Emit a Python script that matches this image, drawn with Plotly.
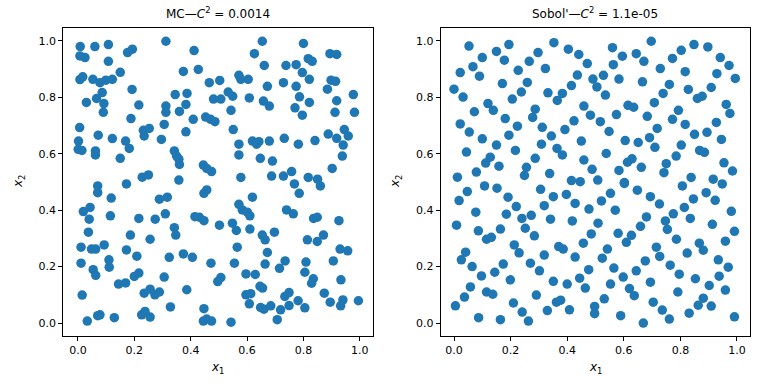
import plotly.graph_objects as go

# Monte Carlo sample (x1, x2)
mc_points = [
(0.008,0.980),(0.060,0.980),(0.108,0.987),(0.312,0.999),(0.412,0.966),(0.007,0.947),(0.025,0.941),(0.108,0.928),(0.176,0.959),(0.193,0.971),(0.374,0.892),(0.427,0.899),(0.007,0.863),(0.017,0.873),(0.053,0.864),(0.078,0.852),(0.099,0.861),(0.122,0.864),(0.150,0.889),(0.466,0.852),(0.192,0.828),(0.086,0.817),(0.066,0.796),(0.092,0.778),(0.030,0.782),(0.090,0.747),(0.216,0.773),(0.345,0.810),(0.387,0.814),(0.312,0.769),(0.312,0.747),(0.360,0.750),(0.383,0.775),(0.481,0.794),(0.188,0.725),(0.006,0.693),(0.072,0.666),(0.122,0.654),(0.169,0.645),(0.182,0.619),(0.232,0.683),(0.253,0.690),(0.235,0.663),(0.306,0.704),(0.296,0.651),(0.383,0.678),(0.409,0.722),(0.453,0.730),(0.471,0.722),(0.486,0.714),(0.002,0.645),(0.001,0.616),(0.014,0.612),(0.062,0.610),(0.062,0.596),(0.150,0.584),(0.342,0.610),(0.350,0.592),(0.358,0.581),(0.360,0.562),(0.445,0.560),(0.457,0.548),(0.474,0.537),(0.228,0.517),(0.250,0.525),(0.358,0.507),
(0.654,0.999),(0.800,0.991),(0.626,0.955),(0.894,0.955),(0.918,0.952),(0.661,0.913),(0.738,0.913),(0.774,0.916),(0.817,0.937),(0.831,0.928),(0.796,0.888),(0.503,0.860),(0.571,0.878),(0.578,0.864),(0.604,0.864),(0.672,0.839),(0.729,0.852),(0.774,0.839),(0.821,0.864),(0.898,0.861),(0.914,0.857),(0.885,0.829),(0.533,0.819),(0.549,0.804),(0.507,0.794),(0.608,0.798),(0.658,0.787),(0.679,0.769),(0.786,0.802),(0.821,0.782),(0.770,0.763),(0.796,0.737),(0.918,0.788),(0.977,0.810),(0.912,0.747),(0.981,0.747),(0.543,0.754),(0.551,0.686),(0.571,0.634),(0.571,0.596),(0.619,0.645),(0.634,0.634),(0.642,0.643),(0.679,0.645),(0.647,0.584),(0.690,0.574),(0.732,0.655),(0.782,0.634),(0.841,0.647),(0.888,0.670),(0.918,0.655),(0.945,0.686),(0.959,0.663),(0.941,0.631),(0.938,0.592),(0.902,0.548),(0.578,0.516),(0.687,0.521),(0.729,0.521),(0.758,0.537),(0.817,0.516),(0.850,0.510),
(0.070,0.486),(0.070,0.462),(0.172,0.493),(0.447,0.460),(0.457,0.472),(0.118,0.443),(0.019,0.395),(0.043,0.410),(0.040,0.368),(0.115,0.380),(0.289,0.439),(0.317,0.446),(0.310,0.387),(0.216,0.371),(0.274,0.368),(0.415,0.377),(0.431,0.375),(0.447,0.363),(0.037,0.322),(0.186,0.312),(0.256,0.297),(0.342,0.338),(0.347,0.312),(0.011,0.269),(0.048,0.262),(0.063,0.262),(0.093,0.277),(0.172,0.259),(0.209,0.237),(0.110,0.224),(0.111,0.198),(0.011,0.212),(0.054,0.189),(0.063,0.169),(0.144,0.138),(0.169,0.142),(0.200,0.165),(0.216,0.177),(0.235,0.106),(0.256,0.120),(0.273,0.100),(0.289,0.110),(0.306,0.163),(0.324,0.233),(0.374,0.245),(0.406,0.233),(0.472,0.212),(0.386,0.118),(0.328,0.057),(0.015,0.099),(0.033,0.007),(0.070,0.026),(0.078,0.029),(0.129,0.019),(0.226,0.029),(0.238,0.041),(0.256,0.021),(0.447,0.051),(0.445,0.007),(0.457,0.014),(0.474,0.007),
(0.768,0.493),(0.785,0.460),(0.860,0.486),(0.619,0.446),(0.571,0.421),(0.583,0.401),(0.601,0.393),(0.610,0.380),(0.740,0.401),(0.764,0.387),(0.836,0.371),(0.849,0.375),(0.926,0.363),(0.502,0.347),(0.548,0.354),(0.562,0.328),(0.610,0.333),(0.654,0.312),(0.664,0.295),(0.697,0.322),(0.814,0.295),(0.849,0.289),(0.871,0.312),(0.565,0.269),(0.672,0.250),(0.930,0.262),(0.957,0.256),(0.555,0.212),(0.664,0.209),(0.715,0.194),(0.735,0.220),(0.809,0.216),(0.805,0.180),(0.835,0.157),(0.829,0.141),(0.906,0.220),(0.933,0.153),(0.496,0.147),(0.507,0.161),(0.596,0.174),(0.629,0.172),(0.646,0.130),(0.655,0.124),(0.596,0.100),(0.613,0.104),(0.608,0.068),(0.648,0.055),(0.660,0.049),(0.684,0.061),(0.719,0.047),(0.707,0.012),(0.734,0.094),(0.749,0.108),(0.749,0.062),(0.781,0.079),(0.805,0.054),(0.874,0.106),(0.895,0.074),(0.940,0.082),(0.932,0.061),(0.995,0.079),(0.543,0.003),
]

# Sobol' sample (x1, x2)
sobol_points = [
(0.053,0.982),(0.150,0.963),(0.194,0.987),(0.100,0.941),(0.178,0.932),(0.297,0.959),(0.353,0.994),(0.404,0.971),(0.441,0.952),(0.471,0.920),(0.067,0.909),(0.022,0.888),(0.090,0.875),(0.227,0.896),(0.266,0.928),(0.323,0.902),(0.436,0.879),(0.491,0.865),(0.000,0.829),(0.032,0.801),(0.171,0.849),(0.259,0.853),(0.238,0.819),(0.206,0.794),(0.332,0.816),(0.383,0.814),(0.365,0.789),(0.415,0.842),(0.120,0.778),(0.139,0.754),(0.072,0.749),(0.287,0.758),(0.278,0.729),(0.181,0.725),(0.224,0.698),(0.459,0.769),(0.482,0.737),(0.424,0.717),(0.022,0.706),(0.054,0.677),(0.100,0.653),(0.194,0.666),(0.312,0.694),(0.344,0.663),(0.392,0.686),(0.450,0.645),(0.044,0.606),(0.150,0.631),(0.217,0.612),(0.309,0.634),(0.364,0.619),(0.383,0.596),(0.128,0.588),(0.112,0.567),(0.159,0.556),(0.079,0.535),(0.256,0.552),(0.249,0.523),(0.287,0.584),(0.338,0.530),(0.459,0.578),(0.488,0.545),(0.012,0.517),(0.415,0.505),(0.446,0.501),
(0.697,0.999),(0.560,0.976),(0.595,0.946),(0.644,0.955),(0.671,0.928),(0.848,0.987),(0.897,0.979),(0.803,0.967),(0.772,0.938),(0.941,0.941),(0.972,0.913),(0.994,0.867),(0.929,0.884),(0.729,0.902),(0.817,0.891),(0.563,0.916),(0.528,0.878),(0.583,0.865),(0.666,0.855),(0.505,0.837),(0.535,0.808),(0.761,0.846),(0.739,0.814),(0.828,0.828),(0.909,0.835),(0.860,0.796),(0.877,0.804),(0.708,0.781),(0.615,0.772),(0.635,0.765),(0.793,0.754),(0.962,0.775),(0.975,0.743),(0.574,0.739),(0.683,0.733),(0.772,0.722),(0.517,0.714),(0.817,0.704),(0.927,0.711),(0.548,0.679),(0.718,0.690),(0.850,0.669),(0.894,0.676),(0.605,0.647),(0.651,0.640),(0.691,0.657),(0.710,0.623),(0.803,0.631),(0.945,0.651),(0.868,0.612),(0.885,0.605),(0.538,0.601),(0.785,0.592),(0.613,0.570),(0.629,0.582),(0.662,0.552),(0.750,0.565),(0.742,0.533),(0.583,0.541),(0.954,0.568),(0.984,0.539),(0.508,0.507),(0.602,0.498),(0.838,0.516),(0.916,0.510),
(0.108,0.486),(0.152,0.478),(0.047,0.466),(0.018,0.434),(0.191,0.446),(0.220,0.413),(0.077,0.393),(0.185,0.386),(0.240,0.371),(0.273,0.382),(0.252,0.336),(0.284,0.309),(0.306,0.474),(0.351,0.448),(0.319,0.416),(0.341,0.368),(0.397,0.456),(0.428,0.424),(0.477,0.404),(0.418,0.362),(0.009,0.347),(0.086,0.327),(0.164,0.333),(0.115,0.297),(0.132,0.304),(0.213,0.277),(0.230,0.249),(0.041,0.251),(0.026,0.224),(0.064,0.200),(0.097,0.167),(0.144,0.180),(0.174,0.209),(0.199,0.153),(0.270,0.212),(0.302,0.185),(0.319,0.241),(0.370,0.271),(0.386,0.262),(0.428,0.234),(0.457,0.283),(0.485,0.316),(0.476,0.189),(0.444,0.159),(0.464,0.124),(0.400,0.138),(0.351,0.148),(0.058,0.128),(0.037,0.092),(0.005,0.061),(0.115,0.110),(0.137,0.102),(0.087,0.019),(0.164,0.012),(0.210,0.071),(0.241,0.039),(0.263,0.007),(0.291,0.099),(0.330,0.044),(0.362,0.074),(0.377,0.081),(0.408,0.047),(0.497,0.059),(0.497,0.033),
(0.602,0.495),(0.807,0.486),(0.948,0.493),(0.648,0.471),(0.553,0.460),(0.521,0.433),(0.694,0.448),(0.726,0.422),(0.846,0.440),(0.891,0.462),(0.923,0.435),(0.814,0.410),(0.570,0.400),(0.680,0.376),(0.775,0.387),(0.747,0.362),(0.754,0.332),(0.835,0.371),(0.980,0.396),(0.509,0.354),(0.659,0.343),(0.913,0.350),(0.580,0.318),(0.609,0.286),(0.627,0.311),(0.786,0.297),(0.991,0.325),(0.959,0.290),(0.867,0.283),(0.881,0.258),(0.715,0.269),(0.542,0.262),(0.524,0.230),(0.727,0.236),(0.824,0.248),(0.676,0.220),(0.934,0.224),(0.565,0.195),(0.644,0.185),(0.764,0.205),(0.796,0.173),(0.969,0.198),(0.937,0.166),(0.598,0.163),(0.853,0.157),(0.694,0.145),(0.553,0.138),(0.902,0.133),(0.620,0.122),(0.637,0.097),(0.791,0.110),(0.959,0.117),(0.531,0.086),(0.704,0.074),(0.881,0.088),(0.863,0.063),(0.909,0.060),(0.736,0.046),(0.761,0.014),(0.831,0.035),(0.589,0.026),(0.669,0.000),(0.991,0.022),
]

titles = ["MC—<i>C</i><sup>2</sup> = 0.0014", "Sobol'—<i>C</i><sup>2</sup> = 1.1e-05"]
tick_vals = [0.0, 0.2, 0.4, 0.6, 0.8, 1.0]
tick_text = ["0.0", "0.2", "0.4", "0.6", "0.8", "1.0"]

mc_x = [p[0] for p in mc_points]
mc_y = [p[1] for p in mc_points]
sobol_x = [p[0] for p in sobol_points]
sobol_y = [p[1] for p in sobol_points]

COLOR = "#1f77b4"
FONT = "DejaVu Sans"

fig = go.Figure()
fig.add_trace(go.Scatter(x=mc_x, y=mc_y, mode="markers", xaxis="x", yaxis="y",
                         marker=dict(color=COLOR, size=9.5, line=dict(width=0)), showlegend=False))
fig.add_trace(go.Scatter(x=sobol_x, y=sobol_y, mode="markers", xaxis="x2", yaxis="y2",
                         marker=dict(color=COLOR, size=9.5, line=dict(width=0)), showlegend=False))

W, H = 768, 384
left_dom = [63.3 / W, 372.5 / W]
right_dom = [440.7 / W, 750 / W]
y_dom = [1 - 336 / H, 1 - 27.7 / H]

axis_common = dict(showgrid=False, zeroline=False, showline=True, mirror=True,
                   linecolor="black", linewidth=1, ticks="outside", ticklen=4,
                   tickwidth=1, tickcolor="black", tickvals=tick_vals, ticktext=tick_text,
                   tickfont=dict(family=FONT, size=11, color="black"))

fig.update_layout(
    width=W, height=H,
    margin=dict(l=0, r=0, t=0, b=0),
    paper_bgcolor="white", plot_bgcolor="white",
    xaxis=dict(domain=left_dom, range=[-0.052, 1.045], anchor="y", **axis_common),
    yaxis=dict(domain=y_dom, range=[-0.046, 1.047], anchor="x", **axis_common),
    xaxis2=dict(domain=right_dom, range=[-0.047, 1.046], anchor="y2", **axis_common),
    yaxis2=dict(domain=y_dom, range=[-0.046, 1.047], anchor="x2", **axis_common),
)

ann = []
for dom, title in zip([left_dom, right_dom], titles):
    cx = (dom[0] + dom[1]) / 2
    ann.append(dict(text=title, x=cx, y=1 - 13 / H, xref="paper", yref="paper",
                    showarrow=False, xanchor="center", yanchor="middle",
                    font=dict(family=FONT, size=12, color="black")))
    ann.append(dict(text="<i>x</i><sub>1</sub>", x=cx, y=1 - 368 / H, xref="paper", yref="paper",
                    showarrow=False, xanchor="center", yanchor="middle",
                    font=dict(family=FONT, size=12, color="black")))
for xpx in [19, 396]:
    ann.append(dict(text="<i>x</i><sub>2</sub>", x=xpx / W, y=1 - 182 / H, xref="paper", yref="paper",
                    showarrow=False, xanchor="center", yanchor="middle", textangle=-90,
                    font=dict(family=FONT, size=12, color="black")))
fig.update_layout(annotations=ann)

fig.write_html("out.html",
               config={"displayModeBar": False},
               post_script="document.body.style.margin='0';document.body.style.padding='0';")
